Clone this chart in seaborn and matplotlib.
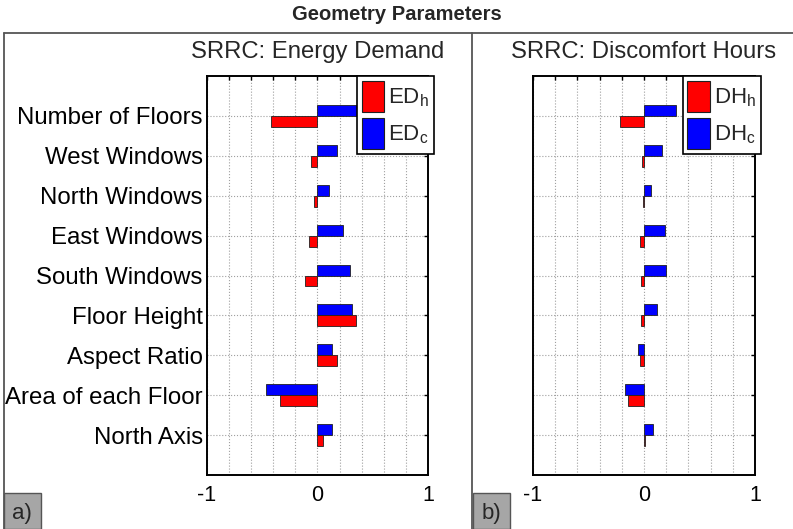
import numpy as np
import pandas as pd
import matplotlib
matplotlib.use("Agg")
import matplotlib.pyplot as plt
import seaborn as sns
from matplotlib.patches import Patch, Rectangle
from matplotlib.lines import Line2D

# ---------------- data ----------------
params = ["Number of Floors", "West Windows", "North Windows", "East Windows",
          "South Windows", "Floor Height", "Aspect Ratio", "Area of each Floor",
          "North Axis"]
ed_h = [-0.42, -0.06, -0.03, -0.08, -0.11, 0.35, 0.18, -0.34, 0.05]
ed_c = [0.40, 0.18, 0.10, 0.23, 0.29, 0.31, 0.13, -0.47, 0.13]
dh_h = [-0.22, -0.02, -0.01, -0.04, -0.03, -0.03, -0.04, -0.14, 0.005]
dh_c = [0.29, 0.16, 0.06, 0.19, 0.20, 0.12, -0.05, -0.17, 0.08]
xtick_vals = [-1.0, -0.8, -0.6, -0.4, -0.2, 0.0, 0.2, 0.4, 0.6, 0.8, 1.0]
xtick_text = ["-1", "", "", "", "", "0", "", "", "", "", "1"]
panel_titles = ["SRRC: Energy Demand", "SRRC: Discomfort Hours"]
legend_labels = [[r"$\mathregular{ED_h}$", r"$\mathregular{ED_c}$"],
                 [r"$\mathregular{DH_h}$", r"$\mathregular{DH_c}$"]]
suptitle = "Geometry Parameters"
panel_tags = ["a)", "b)"]

RED = "#ff0000"
BLUE = "#0000ff"

sns.set_style("white")
plt.rcParams["font.family"] = ["Liberation Sans", "DejaVu Sans"]
plt.rcParams["mathtext.fontset"] = "custom"
plt.rcParams["mathtext.rm"] = "Liberation Sans"
plt.rcParams["mathtext.it"] = "Liberation Sans:italic"

W, H = 793, 529
fig = plt.figure(figsize=(W / 100, H / 100), dpi=100)

def frac_x(px):
    return px / W

def frac_y(px):
    return 1 - px / H

axes_boxes = [(207, 428), (533, 755)]
top_px, bot_px = 76, 475

datasets = [(ed_h, ed_c), (dh_h, dh_c)]

for i, ((hv, cv), (xl, xr)) in enumerate(zip(datasets, axes_boxes)):
    ax = fig.add_axes([frac_x(xl), frac_y(bot_px), (xr - xl) / W, (bot_px - top_px) / H])
    df = pd.DataFrame({
        "param": params * 2,
        "value": list(cv) + list(hv),
        "series": ["c"] * len(params) + ["h"] * len(params),
    })
    sns.barplot(data=df, x="value", y="param", hue="series", hue_order=["c", "h"],
                order=params, palette={"c": BLUE, "h": RED}, orient="h",
                width=0.55, dodge=True, gap=0, saturation=1, errorbar=None,
                edgecolor="#202020", linewidth=0.6, legend=False, ax=ax)
    ax.set_xlim(-1, 1)
    ax.set_ylim(9, -1)
    ax.set_xlabel("")
    ax.set_ylabel("")
    ax.set_xticks(xtick_vals)
    ax.set_xticklabels(xtick_text)
    ax.set_yticks(range(len(params)))
    if i == 0:
        ax.set_yticklabels(params)
    else:
        ax.set_yticklabels([])
    ax.set_axisbelow(True)
    ax.grid(True, linestyle=":", color="#a0a0a0", linewidth=0.8)
    ax.tick_params(axis="x", direction="in", length=3, width=1, top=True,
                   labelsize=15.5, pad=7, colors="black")
    ax.tick_params(axis="y", direction="in", length=3, width=1, right=True,
                   labelsize=17.3, pad=3, colors="black")
    for sp in ax.spines.values():
        sp.set_visible(True)
        sp.set_color("black")
        sp.set_linewidth(1.4)
    ax.set_title(panel_titles[i], fontsize=17.2, pad=13)

    handles = [Patch(facecolor=RED, edgecolor="#202020", linewidth=0.8),
               Patch(facecolor=BLUE, edgecolor="#202020", linewidth=0.8)]
    leg = ax.legend(handles, legend_labels[i], loc="upper right",
                    bbox_to_anchor=(1.027, 1.0), borderaxespad=0,
                    fontsize=16, handlelength=1.0, handleheight=1.75,
                    handletextpad=0.2, labelspacing=0.3, borderpad=0.22,
                    fancybox=False, framealpha=1, edgecolor="black")
    leg.get_frame().set_linewidth(1.2)

# figure title
fig.text(0.5, frac_y(20), suptitle, ha="center", va="baseline", fontsize=14.5,
         fontweight="bold")

# panel frames
fc = "#555555"
fig.add_artist(Line2D([frac_x(4), 1], [frac_y(33), frac_y(33)], transform=fig.transFigure,
                      color=fc, lw=1.3))
fig.add_artist(Line2D([frac_x(4), frac_x(4)], [0, frac_y(33)], transform=fig.transFigure,
                      color=fc, lw=1.3))
fig.add_artist(Line2D([frac_x(472), frac_x(472)], [0, frac_y(33)], transform=fig.transFigure,
                      color=fc, lw=1.3))

for tag, x0 in zip(panel_tags, [4, 473]):
    fig.add_artist(Rectangle((frac_x(x0), 0), 37 / W, 36 / H, transform=fig.transFigure,
                             facecolor="#a6a6a6", edgecolor=fc, lw=1.0))
    fig.text(frac_x(x0 + 18), frac_y(514), tag, ha="center", va="center", fontsize=16)

fig.savefig("out.png", dpi=100)
